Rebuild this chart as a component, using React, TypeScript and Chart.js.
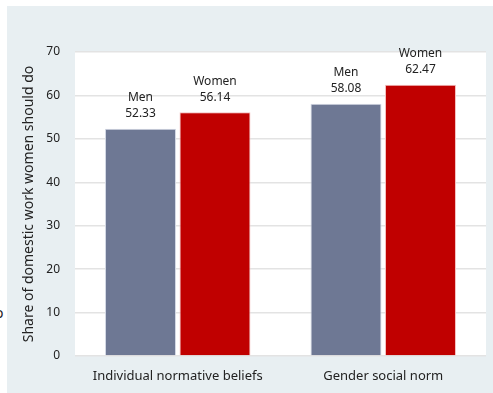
import React, { useEffect, useRef } from "react";
import { Chart, registerables } from "chart.js";

Chart.register(...registerables);

const categories = ["Individual normative beliefs", "Gender social norm"];
const menValues = [52.33, 58.08];
const womenValues = [56.14, 62.47];
const seriesNames = ["Men", "Women"];
const yTicks = [0, 10, 20, 30, 40, 50, 60, 70];
const yTitle = "Share of domestic work women should do";

const FONT = "'Noto Sans', sans-serif";

const labelPlugin = {
  id: "barLabels",
  afterDatasetsDraw(chart: any) {
    const ctx = chart.ctx;
    ctx.save();
    ctx.fillStyle = "#222";
    ctx.font = `12px ${FONT}`;
    ctx.textAlign = "center";
    ctx.textBaseline = "middle";
    chart.data.datasets.forEach((ds: any, di: number) => {
      const meta = chart.getDatasetMeta(di);
      meta.data.forEach((bar: any, i: number) => {
        const v = ds.data[i];
        ctx.fillText(v.toFixed(2), bar.x, bar.y - 15);
        ctx.fillText(ds.label, bar.x, bar.y - 31);
      });
    });
    ctx.restore();
  },
};

export default function App() {
  const ref = useRef<HTMLCanvasElement>(null);
  useEffect(() => {
    document.body.style.margin = "0";
    const chart = new Chart(ref.current!, {
      type: "bar",
      data: {
        labels: categories,
        datasets: [
          {
            label: seriesNames[0],
            data: menValues,
            backgroundColor: "#6e7894",
            borderColor: "#d3d8e4",
            borderWidth: 1,
            categoryPercentage: 0.725,
            barPercentage: 0.953,
          },
          {
            label: seriesNames[1],
            data: womenValues,
            backgroundColor: "#c00000",
            borderColor: "#f3c0c0",
            borderWidth: 1,
            categoryPercentage: 0.725,
            barPercentage: 0.953,
          },
        ],
      },
      options: {
        animation: false,
        responsive: false,
        maintainAspectRatio: false,
        layout: { padding: { left: 0, right: 7, top: 52, bottom: 0 } },
        plugins: {
          legend: { display: false },
          tooltip: { enabled: false },
        },
        scales: {
          x: {
            grid: { display: false, drawTicks: false },
            border: { display: false },
            ticks: { color: "#222", font: { family: FONT, size: 13 }, padding: 12 },
            afterFit: (s: any) => {
              s.height = 37;
            },
          },
          y: {
            min: 0,
            max: 70,
            afterBuildTicks: (s: any) => {
              s.ticks = yTicks.map((v) => ({ value: v }));
            },
            grid: { color: "#e3e3e3", lineWidth: 1.5, drawTicks: false },
            border: { display: false },
            ticks: { color: "#222", font: { family: FONT, size: 12 }, padding: 15 },
            title: {
              display: true,
              text: yTitle,
              color: "#222",
              font: { family: FONT, size: 14 },
              padding: { top: 21, bottom: 0 },
            },
            afterFit: (s: any) => {
              s.width = 75;
            },
          },
        },
      },
      plugins: [labelPlugin],
    });
    return () => chart.destroy();
  }, []);

  return (
    <div style={{ position: "relative", width: 493, height: 393, overflow: "hidden", background: "#fff" }}>
      <div
        style={{
          position: "absolute",
          left: 7,
          top: 6,
          width: 486,
          height: 387,
          background: "#e8eff2",
        }}
      />
      <div
        style={{
          position: "absolute",
          left: 75,
          top: 52,
          width: 411,
          height: 304,
          background: "#ffffff",
        }}
      />
      <span
        style={{
          position: "absolute",
          left: -5,
          top: 305,
          fontFamily: FONT,
          fontSize: 14,
          color: "#222",
          lineHeight: "16px",
        }}
      >
        o
      </span>
      <canvas ref={ref} width={493} height={393} style={{ position: "absolute", left: 0, top: 0 }} />
    </div>
  );
}
